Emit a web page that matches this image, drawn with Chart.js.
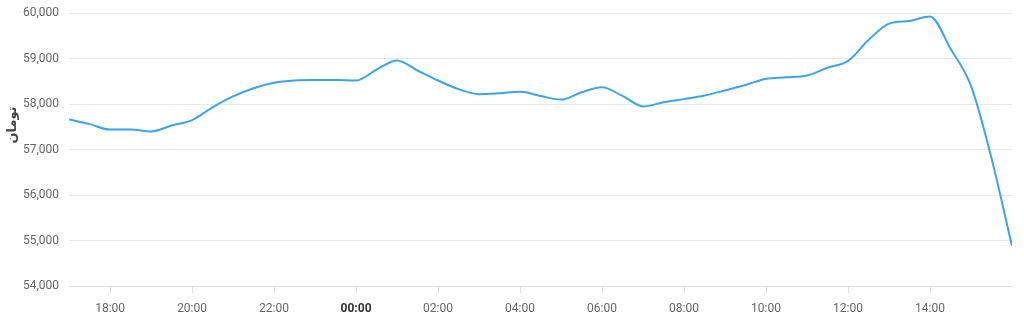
<!DOCTYPE html>
<html>
<head>
<meta charset="utf-8">
<script src="https://cdn.jsdelivr.net/npm/chart.js@4"></script>
<style>
  html, body { margin: 0; padding: 0; background: #fff; }
  #wrap { width: 1024px; height: 321px; }
</style>
</head>
<body>
<div id="wrap"><canvas id="priceChart"></canvas></div>
<script>
// ساعت‌ها هر نیم ساعت (17 = 17:00 روز قبل، 40 = 16:00 امروز)
var hours = [17, 17.5, 18, 18.5, 19, 19.5, 20, 20.5, 21, 21.5, 22, 22.5, 23, 23.5,
             24, 24.5, 25, 25.5, 26, 26.5, 27, 27.5, 28, 28.5, 29, 29.5, 30, 30.5,
             31, 31.5, 32, 32.5, 33, 33.5, 34, 34.5, 35, 35.5, 36, 36.5, 37, 37.5,
             38, 38.5, 39, 39.5, 40];
var prices = [57660, 57560, 57440, 57440, 57400, 57530, 57650, 57930, 58170, 58350, 58470, 58520, 58530, 58530,
              58520, 58760, 58960, 58740, 58520, 58330, 58220, 58240, 58270, 58180, 58100, 58260, 58370, 58180,
              57950, 58040, 58110, 58190, 58300, 58420, 58560, 58590, 58630, 58800, 58950, 59410, 59770, 59830,
              59930, 59220, 58400, 56810, 54880];
var tickHours = [18, 20, 22, 24, 26, 28, 30, 32, 34, 36, 38];
var tickLabels = ['18:00', '20:00', '22:00', '00:00', '02:00', '04:00', '06:00', '08:00', '10:00', '12:00', '14:00'];
var yTitle = 'تومان';

// عنوان محور عمودی کمی بالاتر از وسط
var yTitlePlugin = {
    id: 'yTitle',
    afterDraw: function (chart) {
        var c = chart.ctx, a = chart.chartArea;
        c.save();
        c.translate(12, a.top + (a.bottom - a.top) * 0.41);
        c.rotate(-Math.PI / 2);
        c.font = 'bold 13px "Noto Sans", "DejaVu Sans", sans-serif';
        c.fillStyle = '#444';
        c.textAlign = 'center';
        c.textBaseline = 'middle';
        c.fillText(yTitle, 0, 0);
        c.restore();
    }
};

window.onload = function () {
    var points = hours.map(function (h, i) { return { x: h, y: prices[i] }; });
    var ctx = document.getElementById('priceChart').getContext('2d');
    var priceChart = new Chart(ctx, {
        type: 'line',
        data: {
            datasets: [{
                label: 'قیمت',
                data: points,
                borderColor: '#3ba4ea',
                borderWidth: 2,
                pointRadius: 0,
                cubicInterpolationMode: 'monotone',
                fill: false
            }]
        },
        plugins: [yTitlePlugin],
        options: {
            responsive: true,
            maintainAspectRatio: false,
            animation: false,
            layout: { padding: { top: 0, right: 12, left: 17, bottom: 0 } },
            plugins: {
                legend: { display: false },
                tooltip: { enabled: false }
            },
            scales: {
                x: {
                    type: 'linear',
                    min: 17,
                    max: 40,
                    afterBuildTicks: function (axis) {
                        axis.ticks = tickHours.map(function (v) { return { value: v }; });
                    },
                    afterFit: function (axis) { axis.height = 35; },
                    ticks: {
                        autoSkip: false,
                        maxRotation: 0,
                        color: function (c) { return c.tick && c.tick.value === 24 ? '#333' : '#666'; },
                        font: function (c) {
                            return { family: 'Roboto', size: 12, weight: (c.tick && c.tick.value === 24) ? 'bold' : 'normal' };
                        },
                        padding: 9,
                        callback: function (value) {
                            var i = tickHours.indexOf(value);
                            return i >= 0 ? tickLabels[i] : '';
                        }
                    },
                    grid: {
                        drawOnChartArea: false,
                        drawTicks: true,
                        tickLength: 7,
                        color: '#e0e0e0'
                    },
                    border: { display: true, color: '#e0e0e0' }
                },
                y: {
                    min: 54000,
                    max: 60000,
                    ticks: {
                        stepSize: 1000,
                        color: '#666',
                        padding: 6,
                        font: { family: 'Roboto', size: 12 }
                    },
                    grid: {
                        color: '#e8e8e8',
                        drawTicks: true,
                        tickLength: 4,
                        tickColor: 'rgba(0,0,0,0)'
                    },
                    border: { display: false }
                }
            }
        }
    });
};
</script>
</body>
</html>
